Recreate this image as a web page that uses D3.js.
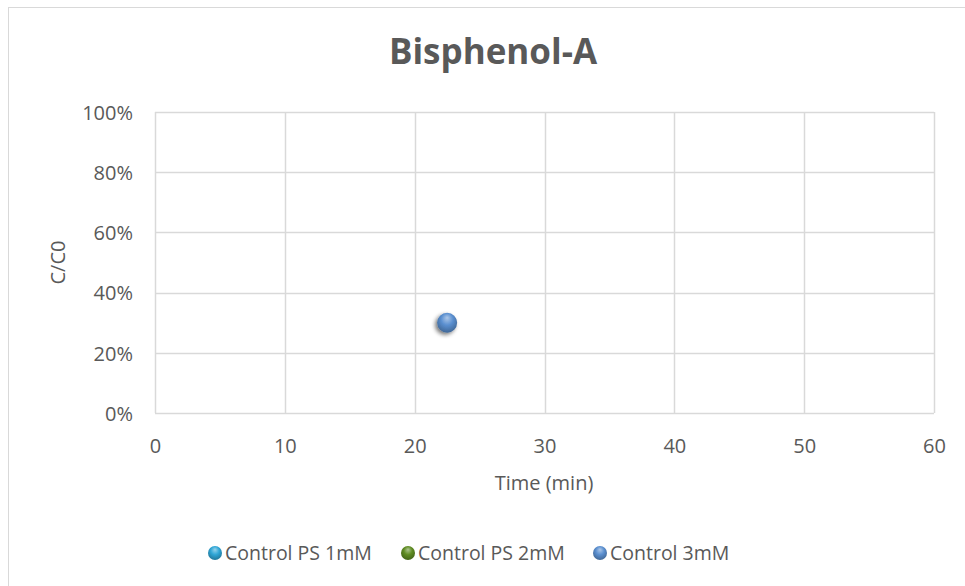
<!DOCTYPE html>
<html>
<head>
<meta charset="utf-8">
<script src="https://cdn.jsdelivr.net/npm/d3@7/dist/d3.min.js"></script>
<style>
  html, body { margin: 0; padding: 0; background: #fff; }
  svg { display: block; }
  text { font-family: "Open Sans", "Liberation Sans", sans-serif; fill: #595959; }
</style>
</head>
<body>
<svg id="chart" width="965" height="586"></svg>
<script>
// Series definitions
const seriesNames = ["Control PS 1mM", "Control PS 2mM", "Control 3mM"];
const seriesColors = ["#2fa6d6", "#5f8c22", "#5a8fd0"];
// Points per series: time (min), C/C0
const series1mM = [];
const series2mM = [];
const series3mM = [{ t: 22.5, c: 0.30 }];
const seriesData = [series1mM, series2mM, series3mM];

const xTicks = [0, 10, 20, 30, 40, 50, 60];
const yTicks = [0, 0.2, 0.4, 0.6, 0.8, 1.0];

const W = 965, H = 586;
const plot = { left: 155, right: 934, top: 112, bottom: 413 };
const FONT = "'Open Sans', sans-serif";
const LABEL_SIZE = 20;

const svg = d3.select("#chart");

// Outer chart border
svg.append("rect")
  .attr("x", 8.5).attr("y", 7.5)
  .attr("width", W).attr("height", H)
  .attr("fill", "#fff").attr("stroke", "#d9d9d9").attr("stroke-width", 1);

// Gradients for the 3D sphere markers
const defs = svg.append("defs");
seriesColors.forEach((col, i) => {
  const g = defs.append("radialGradient")
    .attr("id", "sphere" + i)
    .attr("cx", "50%").attr("cy", "40%").attr("r", "60%")
    .attr("fx", "50%").attr("fy", "25%");
  const c = d3.color(col);
  g.append("stop").attr("offset", "0%").attr("stop-color", d3.interpolateRgb(col, "#ffffff")(0.5));
  g.append("stop").attr("offset", "50%").attr("stop-color", col);
  g.append("stop").attr("offset", "100%").attr("stop-color", c.darker(0.9));
});
const shadow = defs.append("filter").attr("id", "markerShadow")
  .attr("x", "-60%").attr("y", "-60%").attr("width", "220%").attr("height", "220%");
shadow.append("feGaussianBlur").attr("in", "SourceAlpha").attr("stdDeviation", 2).attr("result", "blur");
shadow.append("feOffset").attr("in", "blur").attr("dx", -2).attr("dy", 2).attr("result", "off");
shadow.append("feComponentTransfer").attr("in", "off").attr("result", "shadowFaded")
  .append("feFuncA").attr("type", "linear").attr("slope", 0.55);
const merge = shadow.append("feMerge");
merge.append("feMergeNode").attr("in", "shadowFaded");
merge.append("feMergeNode").attr("in", "SourceGraphic");

const x = d3.scaleLinear().domain([0, 60]).range([plot.left, plot.right]);
const y = d3.scaleLinear().domain([0, 1]).range([plot.bottom, plot.top]);

// Gridlines
const grid = svg.append("g");
grid.selectAll("line.h").data(yTicks).join("line")
  .attr("x1", plot.left).attr("x2", plot.right)
  .attr("y1", d => Math.round(y(d)) + 0.5).attr("y2", d => Math.round(y(d)) + 0.5)
  .attr("stroke", "#d9d9d9").attr("stroke-width", 1.5);
grid.selectAll("line.v").data(xTicks).join("line")
  .attr("y1", plot.top).attr("y2", plot.bottom)
  .attr("x1", d => Math.round(x(d)) + 0.5).attr("x2", d => Math.round(x(d)) + 0.5)
  .attr("stroke", "#d9d9d9").attr("stroke-width", 1.5);

// Axes (labels only; lines come from the grid)
const xAxis = svg.append("g")
  .attr("transform", `translate(0,${plot.bottom + 23})`)
  .call(d3.axisBottom(x).tickValues(xTicks).tickSize(0).tickFormat(d3.format("d")));
xAxis.select(".domain").remove();
xAxis.selectAll("text").attr("font-size", LABEL_SIZE).attr("dy", "0.71em")
  .style("font-family", FONT).attr("fill", "#595959");

const yAxis = svg.append("g")
  .attr("transform", `translate(${plot.left - 19},0)`)
  .call(d3.axisLeft(y).tickValues(yTicks).tickSize(0).tickFormat(d3.format(".0%")));
yAxis.select(".domain").remove();
yAxis.selectAll("text").attr("font-size", LABEL_SIZE).attr("dy", "0.36em")
  .style("font-family", FONT).attr("fill", "#595959");

// Title
svg.append("text")
  .attr("x", 493).attr("y", 64)
  .attr("text-anchor", "middle")
  .attr("font-size", 35).attr("font-weight", "bold")
  .text("Bisphenol-A");

// Axis titles
svg.append("text")
  .attr("x", 544).attr("y", 490)
  .attr("text-anchor", "middle").attr("font-size", LABEL_SIZE)
  .text("Time (min)");
svg.append("text")
  .attr("transform", `translate(65,${(plot.top + plot.bottom) / 2}) rotate(-90)`)
  .attr("text-anchor", "middle").attr("font-size", LABEL_SIZE)
  .text("C/C0");

// Data points
seriesData.forEach((pts, i) => {
  svg.append("g").selectAll("circle").data(pts).join("circle")
    .attr("cx", d => x(d.t)).attr("cy", d => y(d.c))
    .attr("r", 10)
    .attr("fill", `url(#sphere${i})`)
    .attr("filter", "url(#markerShadow)");
});

// Legend
const legendX = [215, 408, 600];
const legend = svg.append("g");
seriesNames.forEach((name, i) => {
  legend.append("circle")
    .attr("cx", legendX[i]).attr("cy", 553).attr("r", 7)
    .attr("fill", `url(#sphere${i})`);
  legend.append("text")
    .attr("x", legendX[i] + 10).attr("y", 560)
    .attr("font-size", 19.5)
    .text(name);
});
</script>
</body>
</html>
